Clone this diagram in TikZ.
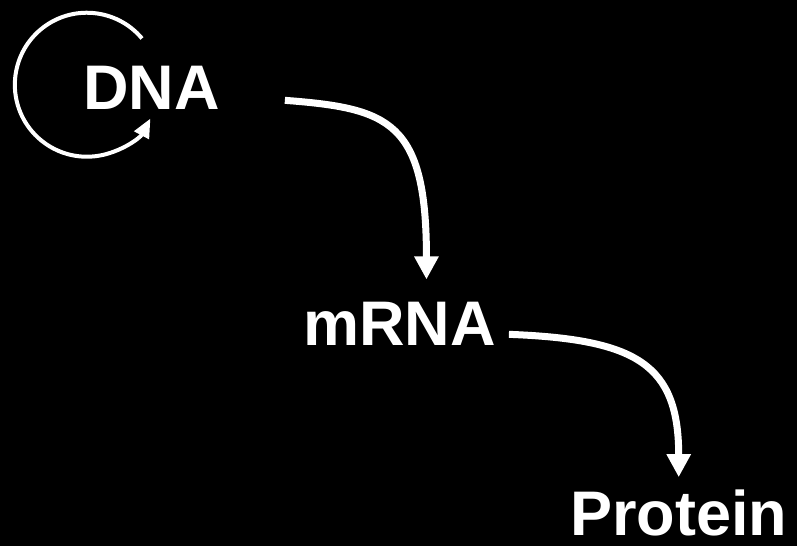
\documentclass[tikz,border=0pt]{standalone}
\usepackage{fontspec}
\setmainfont{Liberation Sans}
\usetikzlibrary{arrows.meta,positioning}

\begin{document}
\begin{tikzpicture}[
    x=1pt, y=1pt,
    word/.style={text=white, font=\bfseries\fontsize{63}{63}\selectfont, inner sep=0pt, anchor=base west},
    arrow/.style={-{Triangle[width=23pt,length=23pt]}, line width=7pt, white},
    selfarrow/.style={-{Triangle[width=16pt,length=19pt]}, line width=4pt, white},
]
\fill[black] (0,0) rectangle (797,546);
\useasboundingbox (0,0) rectangle (797,546);

\node[word] (dna) at (83,436) {DNA};
\node[word] (mrna) at (303,200) {mRNA};
\node[word] (prot) at (570,11) {Protein};

\draw[selfarrow] ([shift={(59pt,28pt)}]dna.north west) arc[start angle=40, end angle=332, radius=72pt];

\draw[arrow] ([shift={(65pt,-12pt)}]dna.east) .. controls +(105,-8) and +(0,158) .. ([shift={(27pt,23pt)}]mrna.north);
\draw[arrow] ([shift={(13pt,-10pt)}]mrna.east) .. controls +(128,-5) and +(0,113) .. ([shift={(0pt,12pt)}]prot.north);
\end{tikzpicture}
\end{document}
